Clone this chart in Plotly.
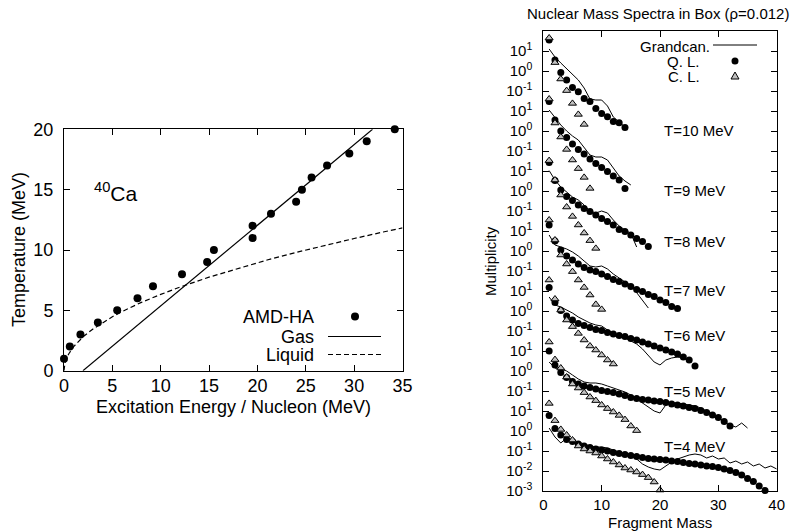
import plotly.graph_objects as go

W, H = 802, 532
FONT = "Liberation Sans, Arial, Helvetica, sans-serif"

# ---------------- left panel data: caloric curve of 40Ca ----------------
amd_E = [0.0, 0.6, 1.7, 3.5, 5.5, 7.6, 9.2, 12.2, 14.8, 15.5, 19.5, 19.5,
         21.4, 24.0, 24.6, 25.6, 27.2, 29.5, 31.3, 34.2]
amd_T = [1, 2, 3, 4, 5, 6, 7, 8, 9, 10, 12, 11, 13, 14, 15, 16, 17, 18, 19, 20]
gas_E = [1.96, 31.9]
gas_T = [0.0, 20.0]
liq_E = [0, 0.1, 0.25, 0.5, 1, 1.5, 2, 3, 4, 5, 6, 8, 10, 12, 15, 18, 21, 24,
         27, 30, 33, 35]
liq_T = [0, 0.63, 1.0, 1.41, 2.0, 2.45, 2.83, 3.46, 4.0, 4.47, 4.9, 5.66, 6.32,
         6.93, 7.75, 8.49, 9.17, 9.8, 10.39, 10.95, 11.49, 11.83]

# ---------------- right panel data: mass spectra (multiplicity vs A=1,2,...) ----
ql_t10 = [35.5, 3.55, 0.83, 0.355, 0.151, 0.093, 0.0427, 0.0295, 0.0135, 0.0076,
          0.0052, 0.00295, 0.0026, 0.0015]
ql_t9 = [29.5, 3.55, 1.0, 0.468, 0.224, 0.12, 0.0708, 0.0398, 0.024, 0.0148,
         0.00933, 0.00562, 0.00355, 0.00135]
ql_t8 = [26.3, 3.31, 1.12, 0.525, 0.331, 0.2, 0.135, 0.0933, 0.0631, 0.0427,
         0.0295, 0.02, 0.012, 0.00933, 0.00631, 0.00427, 0.00295, 0.00166]
ql_t7 = [20.0, 3.16, 1.12, 0.562, 0.355, 0.224, 0.151, 0.112, 0.0933, 0.0708,
         0.0525, 0.038, 0.0295, 0.0224, 0.0166, 0.012, 0.00933, 0.00676, 0.00525,
         0.00355, 0.00263, 0.00166, 0.00135]
ql_t6 = [15.1, 2.63, 1.05, 0.562, 0.355, 0.24, 0.186, 0.151, 0.12, 0.105, 0.0832,
         0.0708, 0.0589, 0.0525, 0.0427, 0.0355, 0.0282, 0.0224, 0.0178, 0.0141,
         0.0112, 0.00891, 0.00708, 0.00501, 0.00355, 0.00178]
ql_t5 = [10.0, 2.0, 0.851, 0.468, 0.295, 0.224, 0.178, 0.151, 0.126, 0.105, 0.0933,
         0.0832, 0.0708, 0.0589, 0.0479, 0.0427, 0.038, 0.0355, 0.0316, 0.0295,
         0.0263, 0.0224, 0.02, 0.0178, 0.0151, 0.0135, 0.0105, 0.00832, 0.00631,
         0.00479, 0.00295, 0.00178]
ql_t4 = [5.89, 1.35, 0.631, 0.38, 0.295, 0.224, 0.178, 0.151, 0.126, 0.112, 0.1,
         0.0851, 0.0759, 0.0676, 0.0589, 0.0525, 0.0479, 0.0427, 0.0398, 0.038,
         0.0355, 0.0316, 0.0295, 0.0269, 0.024, 0.0224, 0.02, 0.0178, 0.0166,
         0.0148, 0.0126, 0.0105, 0.00832, 0.00631, 0.00427, 0.00295, 0.00178, 0.00105]

cl_t10 = [44.7, 2.63, 0.398, 0.105, 0.024, 0.00676, 0.00214]
cl_t9 = [39.8, 2.51, 0.501, 0.12, 0.0355, 0.0132, 0.00479, 0.00135]
cl_t8 = [33.1, 3.55, 0.631, 0.158, 0.0537, 0.02, 0.00794, 0.00331, 0.00135]
cl_t7 = [35.5, 3.55, 0.631, 0.224, 0.0933, 0.0355, 0.0151, 0.00631, 0.00214, 0.0012]
cl_t6 = [35.5, 3.98, 1.12, 0.355, 0.166, 0.0759, 0.0355, 0.0178, 0.0112, 0.00631,
         0.00355, 0.00224]
cl_t5 = [28.2, 3.72, 1.41, 0.501, 0.224, 0.141, 0.0832, 0.0501, 0.0331, 0.02, 0.0132,
         0.00891, 0.00603, 0.00372, 0.00178, 0.00105]
cl_t4 = [24.0, 3.31, 1.2, 0.631, 0.355, 0.178, 0.126, 0.1, 0.0794, 0.0562, 0.0398,
         0.0282, 0.02, 0.0141, 0.0112, 0.00891, 0.00661, 0.00468, 0.00282, 0.00112]

gc_t10 = [12.6, 5.01, 2.51, 1.26, 0.708, 0.355, 0.141, 0.0398, 0.0355, 0.0355,
          0.0178, 0.00501, 0.00282, 0.00158]
gc_t9 = [11.2, 4.47, 2.0, 1.0, 0.562, 0.355, 0.158, 0.0631, 0.0501, 0.0501, 0.0355,
         0.0141, 0.00562, 0.00316, 0.002]
gc_t8 = [10.5, 3.55, 1.58, 0.891, 0.501, 0.355, 0.2, 0.1, 0.0794, 0.1, 0.0794,
         0.0355, 0.0178, 0.0112, 0.00759, 0.00158]
gc_t7 = [6.31, 2.0, 1.58, 1.26, 0.891, 0.562, 0.316, 0.178, 0.158, 0.178, 0.126,
         0.0708, 0.0447, 0.0282, 0.02, 0.00794, 0.00355, 0.00141]
gc_t6 = [5.01, 2.0, 1.58, 1.12, 0.794, 0.501, 0.355, 0.251, 0.2, 0.178, 0.112,
         0.0794, 0.0562, 0.0447, 0.0316, 0.0224, 0.0126, 0.00562, 0.00282, 0.002,
         0.00355, 0.00447, 0.00501, 0.00447, 0.00316]
gc_t5 = [2.82, 1.41, 1.26, 1.0, 0.631, 0.398, 0.282, 0.251, 0.251, 0.224, 0.178,
         0.141, 0.112, 0.0891, 0.0631, 0.0398, 0.0251, 0.0158, 0.01, 0.00794, 0.02,
         0.0251, 0.0251, 0.0224, 0.02, 0.0178, 0.0141, 0.01, 0.00708, 0.00447,
         0.00316, 0.002, 0.00158, 0.00251, 0.00141]
gc_t4 = [1.41, 0.501, 0.251, 0.447, 0.355, 0.282, 0.224, 0.178, 0.158, 0.158, 0.141,
         0.112, 0.0891, 0.0708, 0.0562, 0.0398, 0.0224, 0.0158, 0.0126, 0.0112,
         0.0178, 0.0282, 0.0398, 0.0501, 0.0631, 0.0708, 0.0631, 0.0447, 0.0562,
         0.0398, 0.0447, 0.0251, 0.0316, 0.0224, 0.0282, 0.0178, 0.0224, 0.0141,
         0.0178, 0.0126]

temperatures = [4, 5, 6, 7, 8, 9, 10]
temp_labels = ["T=4 MeV", "T=5 MeV", "T=6 MeV", "T=7 MeV", "T=8 MeV", "T=9 MeV",
               "T=10 MeV"]
# each temperature block is shifted up by three decades
block_shift = [1e0, 1e3, 1e6, 1e9, 1e12, 1e15, 1e18]
ql_sets = [ql_t4, ql_t5, ql_t6, ql_t7, ql_t8, ql_t9, ql_t10]
cl_sets = [cl_t4, cl_t5, cl_t6, cl_t7, cl_t8, cl_t9, cl_t10]
gc_sets = [gc_t4, gc_t5, gc_t6, gc_t7, gc_t8, gc_t9, gc_t10]

# y tick labels (exponents shown), one per decade of the shifted axis
tick_exps = ["-3", "-2", "-1", "0", "1",
             "-1", "0", "1", "-1", "0", "1", "-1", "0", "1",
             "-1", "0", "1", "-1", "0", "1", "-1", "0", "1"]
tick_decades = list(range(-3, 20))


def px(x):
    return x / W


def py(y):
    return 1 - y / H


fig = go.Figure()

# ---- left panel ----
fig.add_trace(go.Scatter(x=liq_E, y=liq_T, mode="lines", xaxis="x", yaxis="y",
                         line=dict(color="black", width=1.2, dash="5px,3px"),
                         showlegend=False))
fig.add_trace(go.Scatter(x=gas_E, y=gas_T, mode="lines", xaxis="x", yaxis="y",
                         line=dict(color="black", width=1.2), showlegend=False))
fig.add_trace(go.Scatter(x=amd_E, y=amd_T, mode="markers", xaxis="x", yaxis="y",
                         marker=dict(color="black", size=8), cliponaxis=False,
                         showlegend=False))

# ---- right panel ----
for shift, gc, ql, cl in zip(block_shift, gc_sets, ql_sets, cl_sets):
    fig.add_trace(go.Scatter(x=list(range(1, len(gc) + 1)), y=[v * shift for v in gc],
                             mode="lines", xaxis="x2", yaxis="y2",
                             line=dict(color="black", width=1), showlegend=False))
    fig.add_trace(go.Scatter(x=list(range(1, len(ql) + 1)), y=[v * shift for v in ql],
                             mode="markers", xaxis="x2", yaxis="y2", cliponaxis=False,
                             marker=dict(color="black", size=7), showlegend=False))
    fig.add_trace(go.Scatter(x=list(range(1, len(cl) + 1)), y=[v * shift for v in cl],
                             mode="markers", xaxis="x2", yaxis="y2", cliponaxis=False,
                             marker=dict(symbol="triangle-up", color="#c0c0c0", size=7,
                                         line=dict(color="black", width=1)),
                             showlegend=False))

axis_common = dict(showline=True, linecolor="black", linewidth=1, mirror="ticks",
                   ticks="inside", ticklen=6, tickcolor="black", tickwidth=1,
                   showgrid=False, zeroline=False, automargin=False)

fig.update_layout(
    template="none",
    width=W, height=H, autosize=False,
    margin=dict(l=0, r=0, t=0, b=0, pad=0),
    paper_bgcolor="white", plot_bgcolor="white",
    font=dict(family=FONT, color="black"),
    xaxis=dict(domain=[px(64), px(402.5)], range=[0, 35], tickvals=[0, 5, 10, 15, 20, 25, 30, 35],
               anchor="y", tickfont=dict(size=18), ticklabelstandoff=-1, **axis_common),
    yaxis=dict(domain=[py(370.7), py(129.3)], range=[0, 20], tickvals=[0, 5, 10, 15, 20],
               anchor="x", tickfont=dict(size=18), ticklabelstandoff=6, **axis_common),
    xaxis2=dict(domain=[px(543.3), px(776.7)], range=[0, 40], tickvals=[0, 10, 20, 30, 40],
                anchor="y2", tickfont=dict(size=15), ticklabelstandoff=0, **axis_common),
    yaxis2=dict(domain=[py(491), py(31)], type="log", range=[-3, 20],
                tickvals=[10.0 ** d for d in tick_decades],
                ticktext=["10<sup>" + e + "</sup>" for e in tick_exps],
                anchor="x2", tickfont=dict(size=15), ticklabelstandoff=7, **axis_common),
)

ann = []


def text(s, x, y, size, xanchor="center", angle=0):
    ann.append(dict(text=s, x=px(x), y=py(y), xref="paper", yref="paper",
                    xanchor=xanchor, yanchor="middle", showarrow=False,
                    textangle=angle, font=dict(size=size, family=FONT, color="black")))


# left panel texts
text("Temperature (MeV)", 19, 250, 18, angle=-90)
text("Excitation Energy / Nucleon (MeV)", 233, 407, 18)
text("<sup>40</sup>Ca", 92, 192, 21, xanchor="left")
text("AMD-HA", 316, 316.5, 18, xanchor="right")
text("Gas", 316, 336.5, 18, xanchor="right")
text("Liquid", 316, 355, 18, xanchor="right")

# right panel texts
text("Nuclear Mass Spectra in Box (\u03c1=0.012)", 658, 13, 15)
text("Multiplicity", 490, 261, 15, angle=-90)
text("Fragment Mass", 660, 522, 15)
text("Grandcan.", 712, 46.5, 15, xanchor="right")
text("Q. L.", 702, 61.5, 15, xanchor="right")
text("C. L.", 702, 76.5, 15, xanchor="right")
label_y = [446, 391.7, 335, 290, 241.7, 190.7, 131]
for lab, yy in zip(temp_labels, label_y):
    text(lab, 662, yy, 15, xanchor="left")

fig.update_layout(annotations=ann)

shapes = [
    # left key samples
    dict(type="circle", xref="paper", yref="paper", x0=px(351), x1=px(359),
         y0=py(320.5), y1=py(312.5), fillcolor="black", line=dict(color="black", width=0)),
    dict(type="line", xref="paper", yref="paper", x0=px(328), x1=px(381),
         y0=py(336.5), y1=py(336.5), line=dict(color="black", width=1.2)),
    dict(type="line", xref="paper", yref="paper", x0=px(328), x1=px(381),
         y0=py(354.5), y1=py(354.5), line=dict(color="black", width=1.2, dash="5px,3px")),
    # right key samples
    dict(type="line", xref="paper", yref="paper", x0=px(713), x1=px(757),
         y0=py(45), y1=py(45), line=dict(color="black", width=1)),
    dict(type="circle", xref="paper", yref="paper", x0=px(731.5), x1=px(738.5),
         y0=py(64.5), y1=py(57.5), fillcolor="black", line=dict(color="black", width=0)),
    dict(type="path", xref="paper", yref="paper",
         path="M {} {} L {} {} L {} {} Z".format(px(731), py(79), px(739), py(79), px(735), py(72)),
         fillcolor="#c0c0c0", line=dict(color="black", width=1)),
]
fig.update_layout(shapes=shapes)

fig.write_html("out.html", config={"displayModeBar": False},
               post_script="document.body.style.margin='0';document.body.style.overflow='hidden';")
